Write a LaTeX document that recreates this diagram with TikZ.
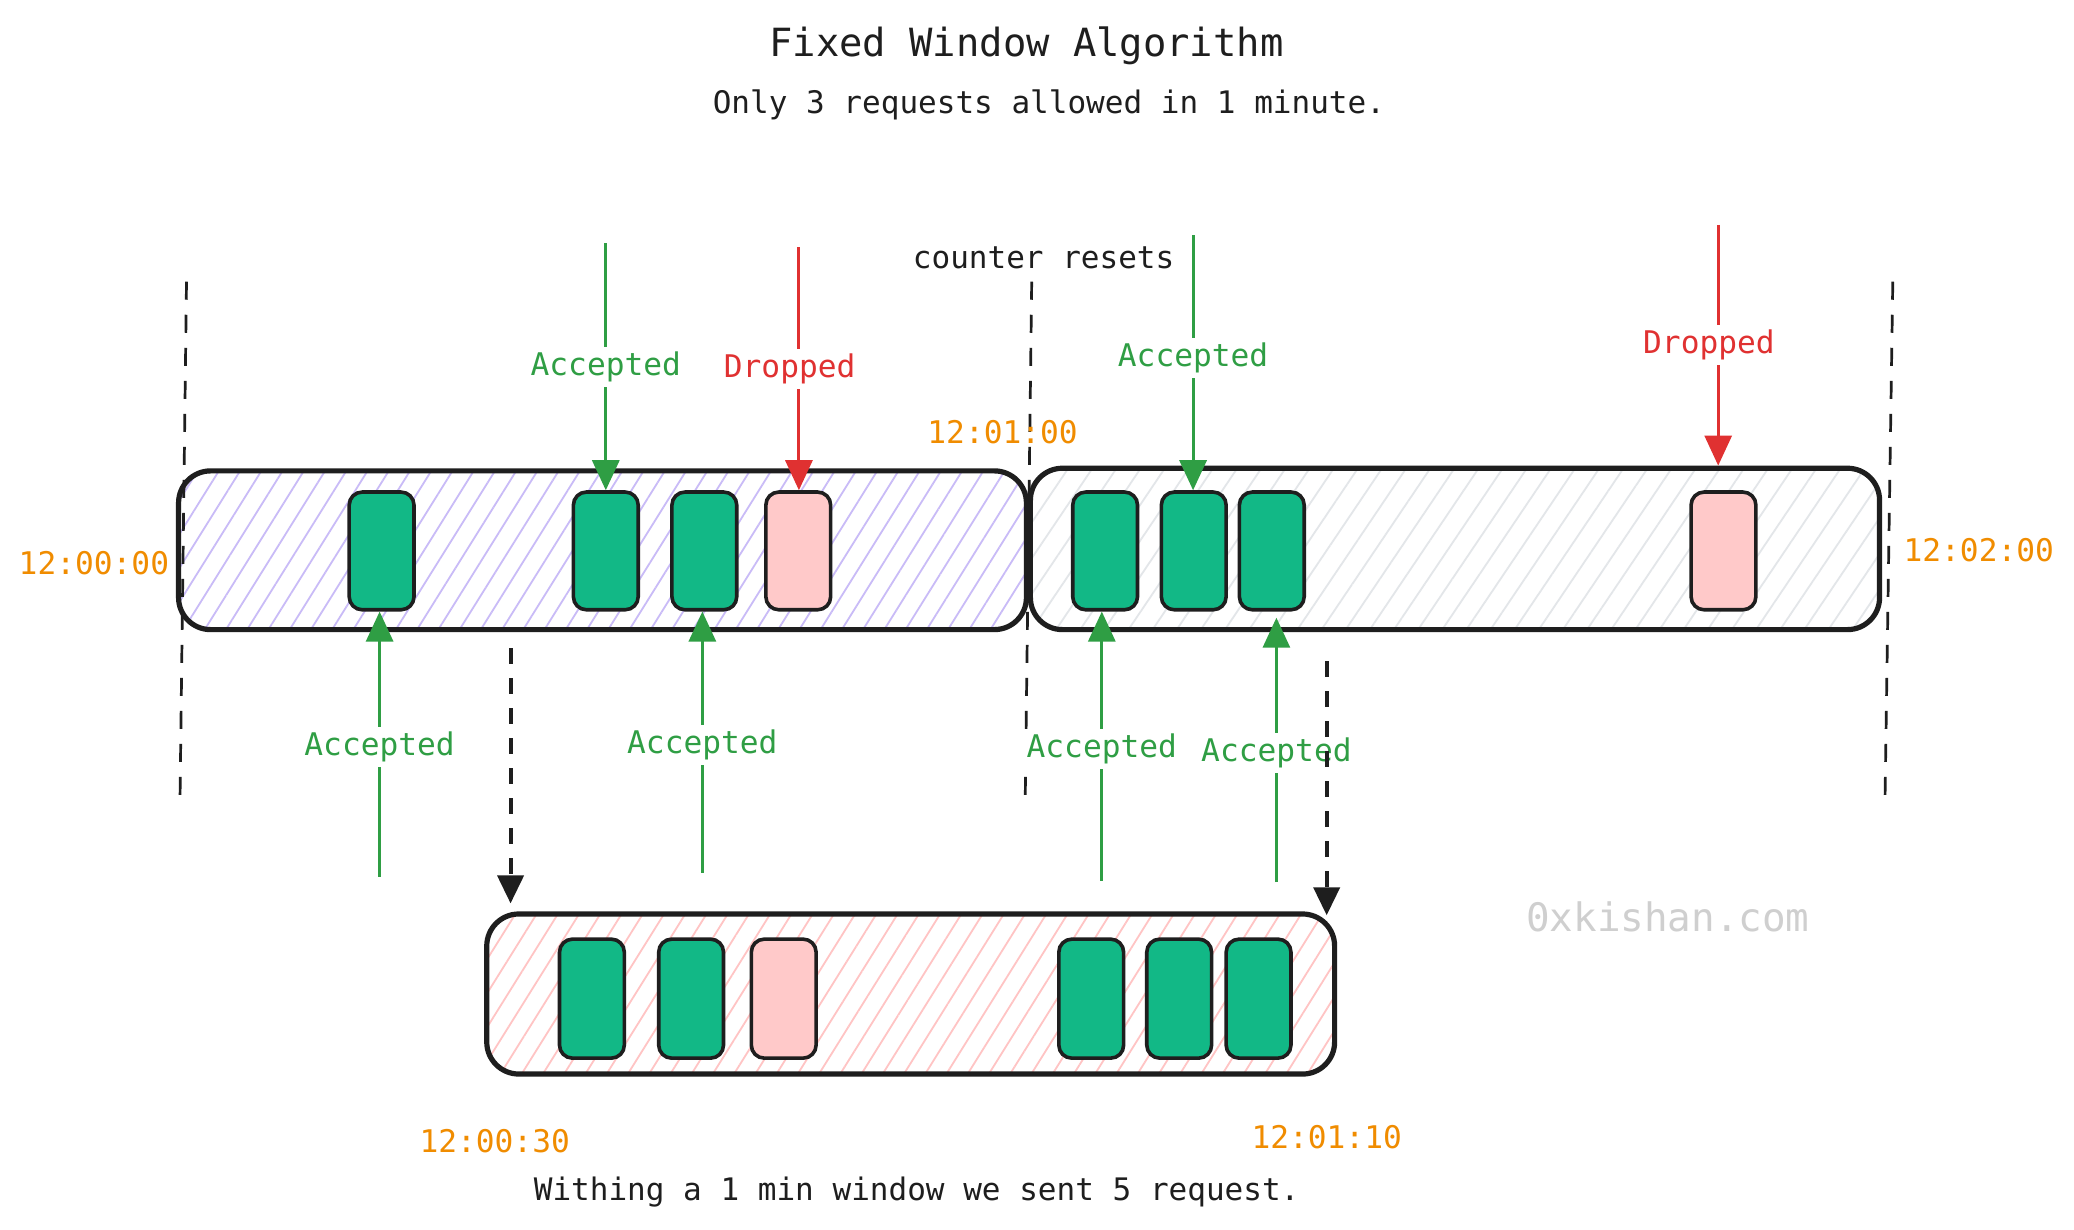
\documentclass[tikz,border=0pt]{standalone}
\usepackage{fontspec}
\setmainfont{DejaVu Sans Mono}
\usetikzlibrary{arrows.meta,patterns.meta}
\definecolor{ink}{HTML}{1E1E1E}
\definecolor{okgreen}{HTML}{2F9E44}
\definecolor{dropred}{HTML}{E03131}
\definecolor{timeorange}{HTML}{F08C00}
\definecolor{reqgreen}{HTML}{12B886}
\definecolor{reqpink}{HTML}{FFC9C9}
\definecolor{hpurple}{HTML}{C9BBF7}
\definecolor{hgray}{HTML}{E3E6E9}
\definecolor{hpink}{HTML}{FFC4C4}
\definecolor{wmgray}{HTML}{CFCFCF}
\newcommand\dpx{0.661pt}
\tikzset{
  win/.style={draw=ink, line width=2.6pt, rounded corners=16pt, minimum width=641*\dpx, minimum height=120*\dpx, inner sep=0pt},
  reqbox/.style={draw=ink, line width=1.8pt, rounded corners=6.5pt, minimum width=49*\dpx, minimum height=89*\dpx, inner sep=0pt},
  okreq/.style={reqbox, fill=reqgreen},
  dropreq/.style={reqbox, fill=reqpink},
  lbl/.style={font=\fontsize{15.6}{18}\selectfont, inner sep=2.5pt, fill=white},
  timelbl/.style={font=\fontsize{15.6}{18}\selectfont, text=timeorange, inner sep=0pt},
  plain/.style={font=\fontsize{15.5}{18}\selectfont, text=ink, inner sep=0pt},
  okarrow/.style={draw=okgreen, line width=1.5pt, -{Triangle[length=15pt,width=13.5pt]}},
  droparrow/.style={draw=dropred, line width=1.5pt, -{Triangle[length=15pt,width=13.5pt]}},
  bound/.style={draw=ink, line width=1.35pt, dash pattern=on 9pt off 7.5pt},
  shiftarrow/.style={draw=ink, line width=2pt, dash pattern=on 8pt off 7pt, -{Triangle[length=14pt,width=13pt]}},
}
\begin{document}
\begin{tikzpicture}[x=0.661pt,y=-0.661pt]
\useasboundingbox[fill=white] (0,0) rectangle (1568,929.2);

% texts
\node[font=\fontsize{19.4}{23}\selectfont, text=ink, inner sep=0pt] (title) at (776,35) {Fixed Window Algorithm};
\node[plain] (sub) at (793,79) {Only 3 requests allowed in 1 minute.};
\node[plain] (reset) at (789,195) {counter resets};
\node[font=\fontsize{19.6}{23}\selectfont, text=wmgray, inner sep=0pt] (wm) at (1261,693) {0xkishan.com};
\node[plain] (foot) at (693,901) {Withing a 1 min window we sent 5 request.};

% windows
\node[win, pattern={Lines[angle=58,distance=9pt,line width=0.9pt]}, pattern color=hpurple] (w1) at (455.5,416) {};
\node[win, pattern={Lines[angle=56,distance=10pt,line width=0.9pt]}, pattern color=hgray, minimum width=642*\dpx, minimum height=122*\dpx] (w2) at (1100,415) {};
\node[win, pattern={Lines[angle=58,distance=9pt,line width=0.9pt]}, pattern color=hpink, minimum height=121*\dpx] (w3) at (688.5,751.5) {};

% boundaries (dashed)
\coordinate (b1t) at (141,213); \coordinate (b1b) at (136,612);
\coordinate (b2t) at (780,213); \coordinate (b2b) at (775,612);
\coordinate (b3t) at (1431,213); \coordinate (b3b) at (1425,612);
\draw[bound] (b1t) -- (b1b);
\draw[bound] (b2t) -- (b2b);
\draw[bound] (b3t) -- (b3b);

% requests row 1
\node[okreq] (r1) at (288.5,416.5) {};
\node[okreq] (r2) at (458,416.5) {};
\node[okreq] (r3) at (532.5,416.5) {};
\node[dropreq] (r4) at (603.5,416.5) {};
\node[okreq] (r5) at (835.5,416.5) {};
\node[okreq] (r6) at (902.5,416.5) {};
\node[okreq] (r7) at (961.5,416.5) {};
\node[dropreq] (r8) at (1303,416.5) {};

% requests row 3
\node[okreq, minimum height=90*\dpx] (s1) at (447.5,755) {};
\node[okreq, minimum height=90*\dpx] (s2) at (522.5,755) {};
\node[dropreq, minimum height=90*\dpx] (s3) at (592.5,755) {};
\node[okreq, minimum height=90*\dpx] (s4) at (825,755) {};
\node[okreq, minimum height=90*\dpx] (s5) at (891.5,755) {};
\node[okreq, minimum height=90*\dpx] (s6) at (951.5,755) {};

% time labels
\node[timelbl] (t0) at (71,426) {12:00:00};
\node[timelbl] (t1) at (758,327) {12:01:00};
\node[timelbl] (t2) at (1496,416) {12:02:00};
\node[timelbl] (t30) at (374,863) {12:00:30};
\node[timelbl] (t70) at (1003,860) {12:01:10};

% incoming arrows from above
\coordinate (a2) at (458,184);
\coordinate (a4) at (604,187);
\coordinate (a6) at (902,178);
\coordinate (a8) at (1299,170);
\coordinate (a8e) at (1299,352);
\draw[okarrow] (a2) -- node[lbl, text=okgreen] {Accepted} (r2.north);
\draw[droparrow] (a4) -- node[lbl, text=dropred, xshift=-7*\dpx] {Dropped} (a4 |- r4.north);
\draw[okarrow] (a6) -- node[lbl, text=okgreen, pos=0.48] {Accepted} (a6 |- r6.north);
\draw[droparrow] (a8) -- node[lbl, text=dropred, xshift=-7*\dpx] {Dropped} (a8e);

% incoming arrows from below
\coordinate (u1) at (287,663);
\coordinate (u3) at (531,660);
\coordinate (u5) at (833,666);
\coordinate (u7) at (965,667);
\coordinate (u7e) at (965,467);
\draw[okarrow] (u1) -- node[lbl, text=okgreen, pos=0.49] {Accepted} (u1 |- r1.south);
\draw[okarrow] (u3) -- node[lbl, text=okgreen, pos=0.49] {Accepted} (u3 |- r3.south);
\draw[okarrow] (u5) -- node[lbl, text=okgreen, pos=0.49] {Accepted} (u5 |- r5.south);
\draw[okarrow] (u7) -- node[lbl, text=okgreen, pos=0.49] {Accepted} (u7e);

% sliding window projections
\coordinate (d1s) at (386,490); \coordinate (d1e) at (386,683);
\coordinate (d2s) at (1003,500); \coordinate (d2e) at (1003,692);
\draw[shiftarrow] (d1s) -- (d1e);
\draw[shiftarrow] (d2s) -- (d2e);
\end{tikzpicture}
\end{document}
